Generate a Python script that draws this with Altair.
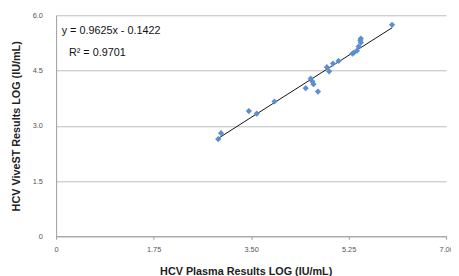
import altair as alt
import pandas as pd

plasma = [2.91, 2.96, 3.46, 3.60, 3.92, 4.48, 4.57, 4.60, 4.62, 4.70, 4.86, 4.90, 4.97, 5.07,
          5.32, 5.35, 5.40, 5.43, 5.46, 5.47, 5.47, 6.03]
vivest = [2.64, 2.80, 3.40, 3.33, 3.66, 4.02, 4.28, 4.20, 4.13, 3.93, 4.59, 4.48, 4.69, 4.76,
          4.96, 4.99, 5.04, 5.15, 5.32, 5.26, 5.37, 5.74]

slope = 0.9625
intercept = -0.1422
fit_x = [min(plasma), max(plasma)]
fit_y = [slope * v + intercept for v in fit_x]

eq_text = ["y = 0.9625x - 0.1422", "R² = 0.9701"]
eq_x = [0.10, 0.23]
eq_y = [5.57, 4.98]

pts = pd.DataFrame({"x": plasma, "y": vivest})
fit = pd.DataFrame({"x": fit_x, "y": fit_y})
ann = pd.DataFrame({"x": eq_x, "y": eq_y, "t": eq_text})

xscale = alt.Scale(domain=[0, 7], nice=False, zero=False)
yscale = alt.Scale(domain=[0, 6], nice=False, zero=False)

xaxis = alt.Axis(
    title="HCV Plasma Results LOG (IU/mL)",
    values=[0, 1.75, 3.5, 5.25, 7.0],
    labelExpr="datum.value == 0 ? '0' : format(datum.value, '.2f')",
    grid=False, domainColor="#9a9a9a", tickColor="#9a9a9a", tickSize=3,
    labelFont="Liberation Sans", labelFontSize=7.5, labelColor="#555555",
    labelPadding=6, labelFlush=False,
    titleFont="Liberation Sans", titleFontSize=11, titleFontWeight="bold",
    titleColor="#222222", titlePadding=13, titleX=193,
)
yaxis = alt.Axis(
    title="HCV ViveST Results LOG (IU/mL)",
    values=[0, 1.5, 3.0, 4.5, 6.0],
    labelExpr="datum.value == 0 ? '0' : format(datum.value, '.1f')",
    grid=True, gridColor="#bdbdbd", domainColor="#9a9a9a", ticks=False,
    labelFont="Liberation Sans", labelFontSize=7.5, labelColor="#555555",
    labelPadding=14,
    titleFont="Liberation Sans", titleFontSize=11, titleFontWeight="bold",
    titleColor="#222222", titlePadding=11,
)

points = alt.Chart(pts).mark_point(shape="diamond", filled=True, size=40, color="#5b8fcf", opacity=1).encode(
    x=alt.X("x:Q", scale=xscale, axis=xaxis),
    y=alt.Y("y:Q", scale=yscale, axis=yaxis),
)
line = alt.Chart(fit).mark_line(color="#111111", strokeWidth=1).encode(
    x=alt.X("x:Q", scale=xscale),
    y=alt.Y("y:Q", scale=yscale),
)
text = alt.Chart(ann).mark_text(align="left", baseline="middle", font="Liberation Sans", fontSize=11, color="#111111").encode(
    x=alt.X("x:Q", scale=xscale),
    y=alt.Y("y:Q", scale=yscale),
    text="t:N",
)

chart = alt.layer(line, points, text).properties(
    width=397, height=225,
    autosize=alt.AutoSizeParams(type="none"),
    padding={"left": 49, "top": 5, "right": 5, "bottom": 38},
    background="white",
).configure_view(stroke=None)

chart.save("out.html", embed_options={"renderer": "svg", "actions": False})
